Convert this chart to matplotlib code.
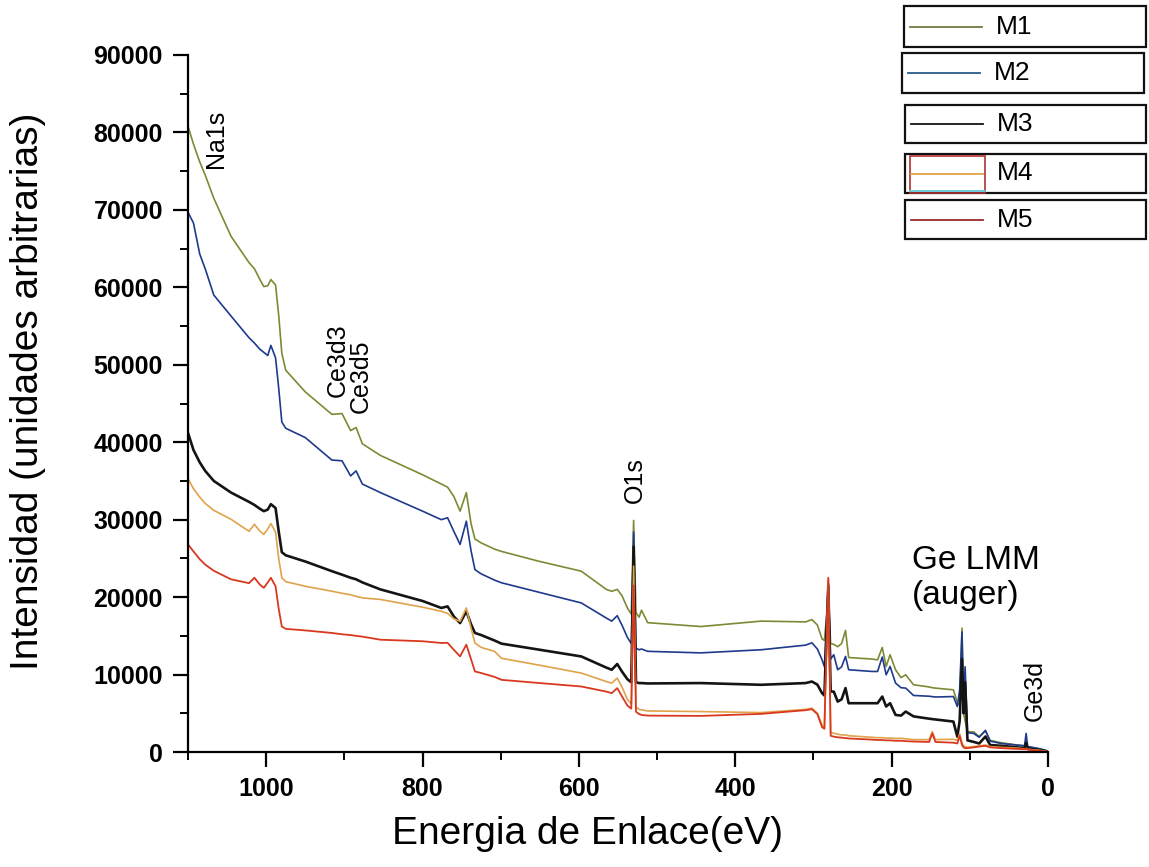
import matplotlib

matplotlib.use("Agg")
import matplotlib.pyplot as plt  # noqa: E402
from matplotlib.lines import Line2D  # noqa: E402
from matplotlib.patches import Rectangle  # noqa: E402
from matplotlib.ticker import MultipleLocator  # noqa: E402

plt.rcParams["font.family"] = ["Liberation Sans", "DejaVu Sans"]

# binding energy (eV)
energy = [
    1100, 1093, 1085, 1078, 1067, 1045, 1022, 1015, 1008, 1003, 998, 994, 988, 984, 980, 975,
    950, 916, 903, 892, 885, 877, 854, 800, 776, 768, 760, 752, 744, 738, 733, 725, 708, 699,
    650, 597, 565, 558, 551, 545, 538, 533, 530, 527, 523, 520, 512, 444, 367, 310, 302, 295,
    289, 286, 281, 278, 274, 269, 264, 259, 255, 225, 218, 212, 207, 202, 195, 188, 182, 172,
    152, 148, 144, 121, 116, 113, 110, 108, 106, 103, 95, 88, 80, 74, 60, 40, 30, 28, 26, 10, 0,
]

m1 = [
    80800, 78500, 76200, 74500, 71500, 66600, 63200, 62400, 61000, 60100, 60200, 61000, 60300, 56400, 51500, 49300,
    46500, 43600, 43700, 41500, 41900, 39800, 38300, 35800, 34600, 34200, 33000, 31100, 33500, 29500, 27500, 27000, 26200, 25900,
    24600, 23350, 21000, 20750, 21000, 20200, 18600, 17800, 29900, 18000, 17400, 18300, 16700, 16200, 16900, 16800, 17100, 16400,
    14600, 14400, 20000, 14000, 13900, 13600, 14000, 15700, 12200, 12000, 11900, 13500, 11050, 12560, 10620, 9600, 9970, 8680,
    8400, 8300, 8250, 8030, 6400, 6000, 16000, 5000, 4000, 2600, 2600, 2000, 2700, 1500, 1200, 900, 800, 1000, 700, 400, 100,
]

m2 = [
    69700, 68300, 64300, 62400, 59000, 56300, 53500, 52800, 52000, 51600, 51200, 52500, 50900, 47000, 42600, 41800,
    40600, 37700, 37600, 35650, 36300, 34600, 33500, 31100, 30000, 30250, 28500, 26800, 29800, 26000, 23550, 23000, 22200, 21850,
    20600, 19250, 17300, 16900, 17600, 16400, 14800, 14000, 28400, 13400, 13200, 13300, 13000, 12800, 13200, 13800, 14100, 13300,
    11900, 11000, 22000, 12000, 12560, 10620, 11000, 12340, 10620, 10400, 10400, 12260, 9970, 11050, 8900, 8300, 8250, 7300,
    7200, 7150, 7100, 7160, 5870, 8000, 15500, 6000, 11000, 2500, 2400, 1900, 2800, 1400, 1100, 900, 800, 2400, 700, 400, 100,
]

m3 = [
    41200, 39000, 37400, 36300, 35000, 33500, 32300, 31900, 31400, 31100, 31300, 32000, 31500, 28500, 25800, 25400,
    24600, 23350, 22900, 22500, 22300, 21900, 21000, 19500, 18600, 18800, 17500, 16650, 18170, 16500, 15370, 15100, 14400, 13990,
    13200, 12340, 10900, 10620, 11360, 10400, 9400, 9000, 26500, 9000, 8900, 8900, 8850, 8900, 8680, 8900, 9100, 8700,
    7600, 7300, 21500, 7800, 7800, 6510, 6800, 8250, 6300, 6300, 6300, 7160, 5870, 6300, 4790, 4700, 5220, 4600,
    4300, 4250, 4200, 3930, 1980, 4000, 12000, 5000, 9000, 1500, 1300, 1100, 2000, 900, 800, 600, 500, 1200, 450, 250, 80,
]

m4 = [
    35300, 34000, 32900, 32100, 31200, 30050, 28500, 29400, 28500, 28100, 28800, 29500, 28400, 25000, 22500, 22000,
    21400, 20760, 20500, 20300, 20100, 19900, 19700, 18700, 18170, 17900, 17200, 16870, 18600, 16000, 14080, 13500, 13000, 12100,
    11200, 10190, 9100, 8900, 9540, 8400, 6800, 6200, 24000, 5800, 5500, 5440, 5300, 5220, 5090, 5500, 5660, 5000,
    3500, 3070, 22300, 2500, 2420, 2300, 2200, 2200, 2100, 1900, 1850, 1850, 1800, 1800, 1750, 1770, 1700, 1600,
    1600, 2630, 1600, 1640, 1500, 2330, 1200, 800, 700, 600, 700, 800, 900, 700, 600, 500, 400, 450, 350, 200, 50,
]

m5 = [
    26800, 25900, 24900, 24200, 23400, 22300, 21800, 22500, 21600, 21200, 21900, 22500, 21400, 18500, 16200, 15900,
    15700, 15370, 15200, 15100, 15000, 14900, 14500, 14300, 14080, 14100, 13200, 12340, 13860, 12000, 10400, 10200, 9700, 9320,
    8900, 8460, 7800, 7600, 8250, 7200, 6000, 5600, 21500, 5200, 4900, 4790, 4700, 4660, 4920, 5400, 5530, 4900,
    3200, 3000, 22500, 2100, 1980, 1900, 1850, 1800, 1750, 1600, 1550, 1550, 1500, 1500, 1450, 1450, 1400, 1350,
    1300, 2400, 1300, 1200, 1100, 2100, 900, 600, 500, 500, 600, 700, 800, 600, 500, 400, 350, 400, 300, 150, 50,
]

series_names = ["M1", "M2", "M3", "M4", "M5"]
series_colors = ["#7d8a33", "#1e3a8c", "#141414", "#e0a24a", "#d9381e"]
series_widths = [1.2, 1.2, 1.9, 1.2, 1.3]

FIG_W, FIG_H = 1149, 867


def px(x, y):
    """pixel position in the picture -> figure fraction"""
    return x / FIG_W, 1 - y / FIG_H


fig = plt.figure(figsize=(11.49, 8.67), dpi=100)
ax = fig.add_axes([188 / FIG_W, 115 / FIG_H, (1048 - 188) / FIG_W, (752 - 55) / FIG_H])

for name, values, color, lw in zip(series_names, [m1, m2, m3, m4, m5], series_colors, series_widths):
    ax.plot(energy, values, color=color, lw=lw, label=name)

ax.set_xlim(1100, 0)
ax.set_ylim(0, 90000)
ax.xaxis.set_major_locator(MultipleLocator(200))
ax.xaxis.set_minor_locator(MultipleLocator(100))
ax.yaxis.set_major_locator(MultipleLocator(10000))
ax.yaxis.set_minor_locator(MultipleLocator(5000))

for side in ["top", "right"]:
    ax.spines[side].set_visible(False)
for side in ["left", "bottom"]:
    ax.spines[side].set_linewidth(1.6)

ax.tick_params(which="major", direction="out", length=11, width=1.6, pad=7, labelsize=18)
ax.tick_params(which="minor", direction="out", length=6, width=1.4)
for lbl in ax.get_xticklabels() + ax.get_yticklabels():
    lbl.set_fontweight("bold")

ax.set_xlabel("Energia de Enlace(eV)", fontsize=28)
ax.set_ylabel("Intensidad (unidades arbitrarias)", fontsize=28)
ax.xaxis.set_label_coords(0.465, -0.092)
ax.yaxis.set_label_coords(-0.165, 0.518)

# peak labels
ax.text(1064, 75400, "Na1s", rotation=90, ha="center", va="bottom", fontsize=18)
ax.text(909, 45900, "Ce3d3", rotation=90, ha="center", va="bottom", fontsize=18)
ax.text(879, 43800, "Ce3d5", rotation=90, ha="center", va="bottom", fontsize=18)
ax.text(528, 32100, "O1s", rotation=90, ha="center", va="bottom", fontsize=18)
ax.text(174, 26700, "Ge LMM\n(auger)", ha="left", va="top", fontsize=24, linespacing=1.15)
ax.text(17, 4000, "Ge3d", rotation=90, ha="center", va="bottom", fontsize=18)

# legend: one framed box per sample, as in the original
legend_boxes = [(904, 1146, 6, 47), (902, 1144, 53, 93), (905, 1146, 105, 143), (905, 1146, 154, 193), (905, 1146, 200, 239)]
legend_line_colors = ["#6f7a45", "#2b5a8a", "#141414", "#e0a24a", "#9a2a2a"]
for name, (x0, x1, y0, y1), lc in zip(series_names, legend_boxes, legend_line_colors):
    bx, by = px(x0, y1)
    fig.add_artist(Rectangle((bx, by), (x1 - x0) / FIG_W, (y1 - y0) / FIG_H, transform=fig.transFigure,
                             fill=False, edgecolor="#111111", lw=1.6))
    yc = (y0 + y1) / 2
    lx0, ly = px(x0 + 6, yc)
    lx1, _ = px(x0 + 78, yc)
    fig.add_artist(Line2D([lx0, lx1], [ly, ly], transform=fig.transFigure, color=lc, lw=1.3))
    tx, ty = px(x0 + 92, yc)
    fig.text(tx, ty, name, ha="left", va="center", fontsize=19)

# the odd little inner frame of the M4 entry
rx, ry = px(910, 193)
fig.add_artist(Rectangle((rx, ry), 75 / FIG_W, 37 / FIG_H, transform=fig.transFigure,
                         fill=False, edgecolor="#b03030", lw=1.2))
cx0, cy = px(910, 191)
cx1, _ = px(985, 191)
fig.add_artist(Line2D([cx0, cx1], [cy, cy], transform=fig.transFigure, color="#5fc8d8", lw=1.3))

fig.savefig("out.png", dpi=100, facecolor="white")
plt.close(fig)
